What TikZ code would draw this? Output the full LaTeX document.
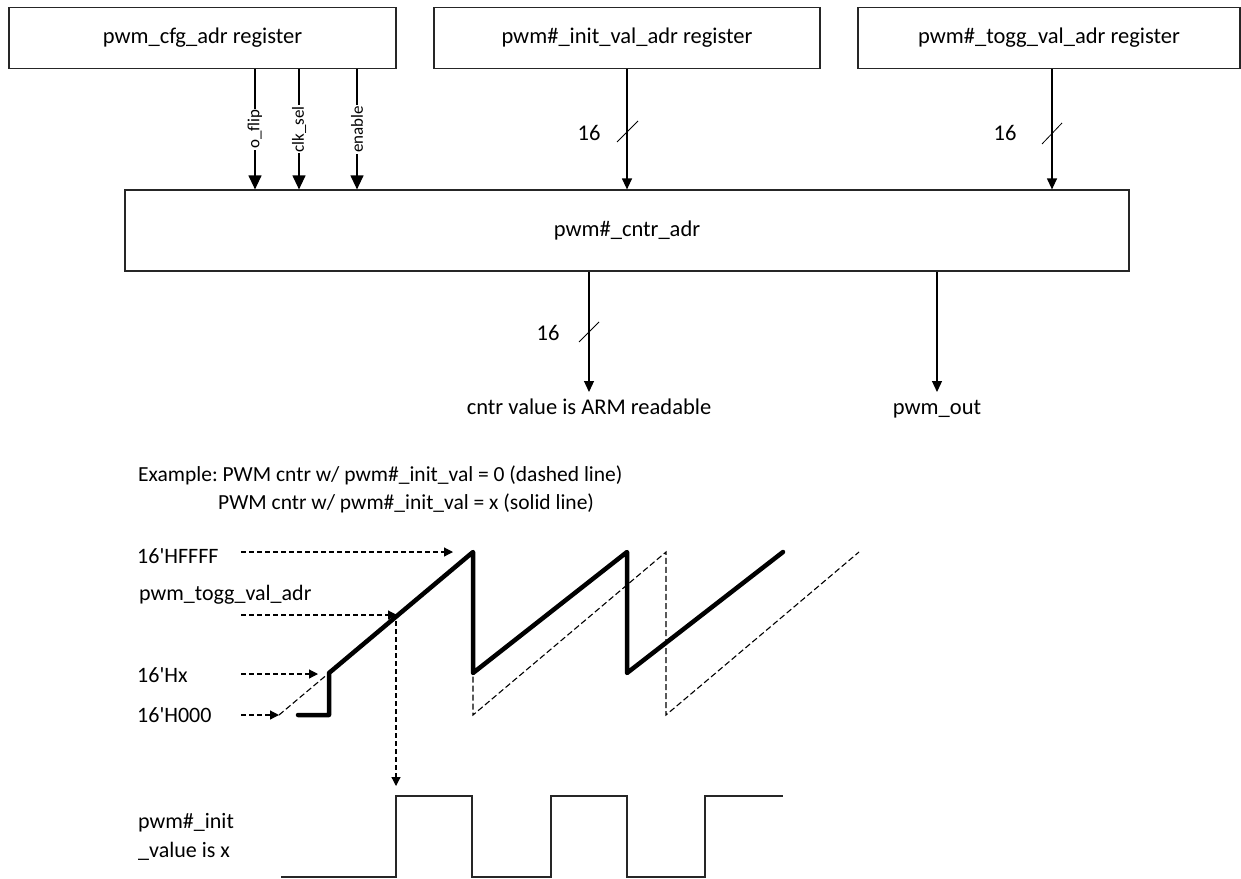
\documentclass[tikz,border=0pt]{standalone}
\usepackage{fontspec}
\setmainfont{Carlito}
\usetikzlibrary{arrows.meta}
\newcommand\fmain{\fontsize{22.5}{27}\selectfont}
\newcommand\flab{\fontsize{22}{26}\selectfont}
\newcommand\fex{\fontsize{21.5}{26}\selectfont}
\newcommand\fsig{\fontsize{17}{20}\selectfont}
\frenchspacing
\begin{document}
\begin{tikzpicture}[x=1pt,y=-1pt,
  box/.style={draw=black!85, line width=1.2pt, inner sep=0pt, font=\fmain},
  siglbl/.style={fill=white, rotate=90, inner sep=1pt, font=\fsig},
  lbl/.style={inner sep=0pt, font=\fmain},
  lft/.style={anchor=west, inner sep=0pt, font=\flab},
  outlbl/.style={anchor=north, inner xsep=0pt, inner ysep=7pt, text height=15pt, text depth=4pt, font=\fmain},
  bigarr/.style={-{Triangle[width=13pt,length=14pt]}, line width=1.2pt},
  arr/.style={-{Triangle[width=10pt,length=11pt]}, line width=1.2pt},
  darr/.style={-{Triangle[width=9pt,length=9pt]}, line width=1.2pt, dash pattern=on 5pt off 3pt},
  busmark/.style={line width=0.8pt},
  dsaw/.style={line width=1.1pt, dash pattern=on 6pt off 3pt},
  saw/.style={line width=4.5pt, line join=round, line cap=round},
  wave/.style={line width=1.2pt, draw=black!85}]
\useasboundingbox (0,0) rectangle (1241,878);

% register boxes
\node[box, minimum width=387pt, minimum height=61pt] (cfg) at (202.5,38) {pwm\_cfg\_adr register};
\node[box, minimum width=386pt, minimum height=61pt] (init) at (627,38) {pwm\#\_init\_val\_adr register};
\node[box, minimum width=382pt, minimum height=61pt] (togg) at (1049,38) {pwm\#\_togg\_val\_adr register};
\node[box, minimum width=1004pt, minimum height=81pt] (cntr) at (627,230.5) {pwm\#\_cntr\_adr};

% control signals
\coordinate (xo) at (255,0);
\coordinate (xc) at (299,0);
\coordinate (xe) at (357,0);
\coordinate (xt) at (1052,0);
\draw[bigarr] (cfg.south -| xo) -- node[siglbl] (lflip) {o\_flip} (cntr.north -| xo);
\draw[bigarr] (cfg.south -| xc) -- node[siglbl] (lclk) {clk\_sel} (cntr.north -| xc);
\draw[bigarr] (cfg.south -| xe) -- node[siglbl] (len) {enable} (cntr.north -| xe);

% buses
\draw[arr] (init.south) -- (init.south |- cntr.north);
\draw[busmark] (617,142) -- (638,121);
\node[lbl] (n16a) at (589,133) {16};
\draw[arr] (togg.south -| xt) -- (cntr.north -| xt);
\draw[busmark] (1042,144) -- (1062,123);
\node[lbl] (n16b) at (1005,133) {16};

% outputs
\node[outlbl] (armtxt) at (589,392) {cntr value is ARM readable};
\node[outlbl] (outtxt) at (937,392) {pwm\_out};
\draw[arr] (cntr.south -| armtxt.north) -- (armtxt.north);
\draw[arr] (cntr.south -| outtxt.north) -- (outtxt.north);
\draw[busmark] (579,342) -- (599,322);
\node[lbl] (n16c) at (548,333) {16};

% example text
\node[lft, font=\fex] (ex1) at (138,475) {Example: PWM cntr w/ pwm\#\_init\_val = 0 (dashed line)};
\node[lft, font=\fex] (ex2) at (218,503) {PWM cntr w/ pwm\#\_init\_val = x (solid line)};

% level labels
\node[lft] (lhffff) at (137,556) {16\textquotesingle HFFFF};
\node[lft] (ltogg) at (139,595) {pwm\_togg\_val\_adr};
\node[lft] (lhx) at (137,675) {16\textquotesingle Hx};
\node[lft] (lh000) at (137,715) {16\textquotesingle H000};
\node[lft, align=left, font=\fontsize{22}{29}\selectfont] (lwave) at (138,837) {pwm\#\_init\\\_value is x};

% level arrows
\coordinate (a1s) at (241,552); \coordinate (a1e) at (453,552);
\coordinate (a2s) at (241,615); \coordinate (a2e) at (397,615);
\coordinate (a3s) at (241,674); \coordinate (a3e) at (318,674);
\coordinate (a4s) at (241,715); \coordinate (a4e) at (279,715);
\draw[darr] (a1s) -- (a1e);
\draw[darr] (a2s) -- (a2e);
\draw[darr] (a3s) -- (a3e);
\draw[darr] (a4s) -- (a4e);

% sawtooth counters
\draw[dsaw] (279,715) -- (473,552) -- (473,715) -- (666,552) -- (666,715) -- (859,552);
\draw[saw] (298,715) -- (329,715) -- (329,673) -- (473,552) -- (473,673) -- (627,552) -- (627,673) -- (783,552);

% toggle point to output wave
\coordinate (tgs) at (396,621); \coordinate (tge) at (396,786);
\draw[darr] (tgs) -- (tge);
\draw[wave] (281,877) -- (396,877) -- (396,796) -- (472,796) -- (472,877) -- (551,877) -- (551,796) -- (627,796) -- (627,877) -- (705,877) -- (705,796) -- (783,796);
\end{tikzpicture}
\end{document}
